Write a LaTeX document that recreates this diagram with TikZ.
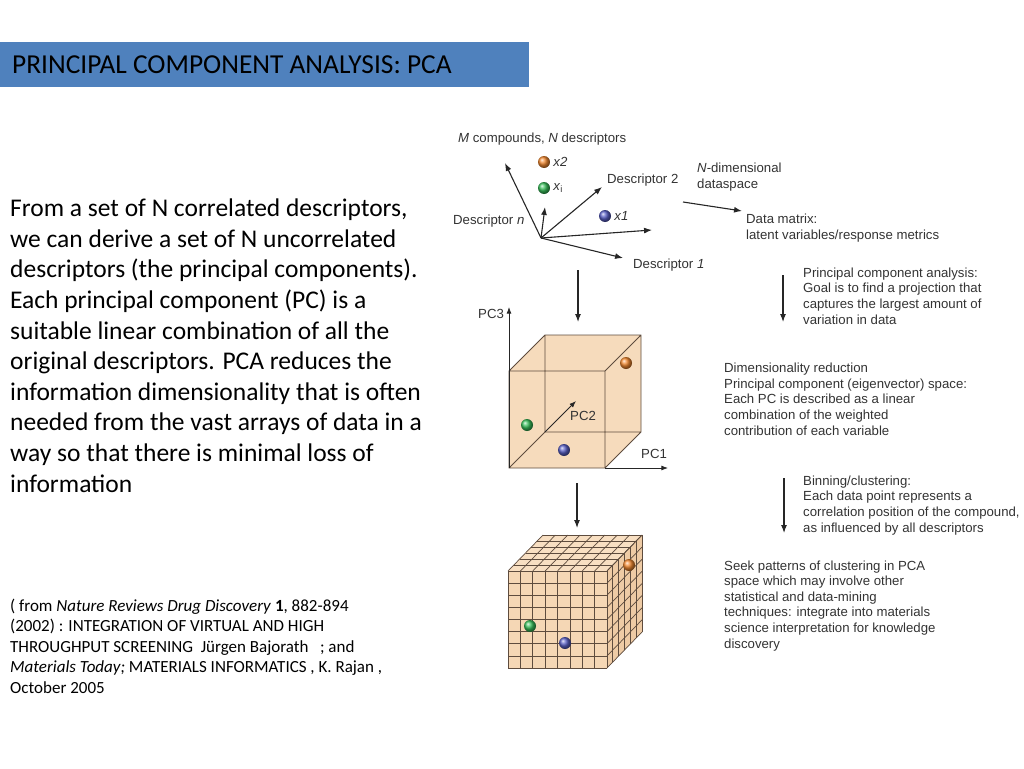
\documentclass[tikz,border=0pt]{standalone}
\usepackage{fontspec}
\setmainfont{Carlito}
\newfontfamily\arialfont{Liberation Sans}
\usetikzlibrary{arrows.meta,calc,positioning}
\definecolor{titleblue}{HTML}{4F81BD}
\definecolor{boxtan}{HTML}{F5D7B5}
\definecolor{boxtop}{HTML}{F8DFC2}
\definecolor{boxside}{HTML}{EECBA5}
\definecolor{boxedge}{HTML}{5E4C3E}
\definecolor{ballorange}{HTML}{F58A30}
\definecolor{ballgreen}{HTML}{38C05A}
\definecolor{ballblue}{HTML}{5A60C8}

\begin{document}
\begin{tikzpicture}[x=1pt,y=-1pt,>=Latex,
  lbl/.style={font=\arialfont\fontsize{13.2}{15.6}\selectfont,inner sep=0pt,anchor=base west,align=left,text=black!80},
  arr/.style={->,line width=1.1pt,black!85},
  ballnode/.style={circle,inner sep=0pt,minimum size=12pt,shade,ball color=#1}]
  \useasboundingbox (0,0) rectangle (1024,768);
  % title bar
  \fill[titleblue] (0,42) rectangle (529,87);
  \node[inner sep=0pt,anchor=base west,font=\fontsize{27.4}{32}\selectfont] (title) at (12,74) {PRINCIPAL COMPONENT ANALYSIS: PCA};
  % left text (base = last line)
  \node[inner sep=0pt,anchor=base west,align=left,font=\fontsize{25.5}{30.6}\selectfont] (body) at (10,492)
    {From a set of N correlated descriptors,\\
     we can derive a set of N uncorrelated\\
     descriptors (the principal components).\\
     Each principal component (PC) is a\\
     suitable linear combination of all the\\
     original descriptors. PCA reduces the\\
     information dimensionality that is often\\
     needed from the vast arrays of data in a\\
     way so that there is minimal loss of\\
     information};
  \node[inner sep=0pt,anchor=base west,align=left,font=\fontsize{17}{20.5}\selectfont] (refs) at (10,693)
    {( from \textit{Nature Reviews Drug Discovery} \textbf{1}, 882-894\\
     (2002) : INTEGRATION OF VIRTUAL AND HIGH\\
     THROUGHPUT SCREENING~ J\"urgen Bajorath ~ ; and\\
     \textit{Materials Today;} MATERIALS INFORMATICS , K. Rajan ,\\
     October 2005};

  % descriptor space
  \node[lbl] (mn) at (458,142) {\textit{M} compounds, \textit{N} descriptors};
  \coordinate (o) at (541,238);
  \coordinate (dn) at (505,163);
  \coordinate (dup) at (545,207);
  \coordinate (d2) at (602,187);
  \coordinate (dh) at (652,230);
  \coordinate (d1) at (623,258);
  \foreach \e in {dn,dup,d2,dh,d1}
    \draw[arr] (o) -- (\e);
  \node[lbl] (ldn) at (453,224) {Descriptor \textit{n}};
  \node[lbl] (ld2) at (607,183) {Descriptor 2};
  \node[lbl] (ld1) at (633,268) {Descriptor \textit{1}};
  \node[ballnode=ballorange] (x2) at (544,162) {};
  \node[ballnode=ballgreen] (xi) at (544,188) {};
  \node[ballnode=ballblue] (x1) at (605,216) {};
  \node[lbl,right=3pt of x2] (lx2) {\textit{x2}};
  \node[lbl,right=3pt of xi] (lxi) {\textit{x}\textsubscript{i}};
  \node[lbl,right=3pt of x1] (lx1) {\textit{x1}};
  \node[lbl] (ndim) at (697,188) {\textit{N}-dimensional\\dataspace};
  \node[lbl] (dmat) at (746,239.5) {Data matrix:\\latent variables/response metrics};
  \coordinate (m0) at (683,202);
  \coordinate (m1) at (742,211);
  \draw[arr] (m0) -- (m1);

  % step arrows
  \coordinate (a0) at (578,270);
  \coordinate (a1) at (578,322);
  \draw[arr] (a0) -- (a1);
  \coordinate (p0) at (783,275);
  \coordinate (p1) at (783,322);
  \draw[arr] (p0) -- (p1);
  \node[lbl] (pca) at (803,324) {Principal component analysis:\\Goal is to find a projection that\\captures the largest amount of\\variation in data};

  % PC cube
  \fill[boxtan,opacity=.9] (509,468) -- (509,371) -- (545,335) -- (641,335) -- (641,432) -- (605,468) -- cycle;
  \draw[boxedge,line width=.8pt] (509,371) rectangle (605,468) (545,335) rectangle (641,432)
    (509,371) -- (545,335) (605,371) -- (641,335) (605,468) -- (641,432) (509,468) -- (545,432);
  \coordinate (c0) at (509,468);
  \coordinate (pc3) at (509,307);
  \coordinate (pc1) at (668,468);
  \coordinate (pc2) at (576,401);
  \draw[->,line width=.8pt,black!85] (c0) -- (pc3);
  \draw[->,line width=.8pt,black!85] (605,468) -- (pc1);
  \draw[->,line width=.8pt,black!85] (545,432) -- (pc2);
  \node[lbl] (lpc3) at (478,318) {PC3};
  \node[lbl] (lpc1) at (641,458) {PC1};
  \node[lbl] (lpc2) at (570,420) {PC2};
  \node[ballnode=ballorange] (c2) at (626,363) {};
  \node[ballnode=ballgreen] (ci) at (527,425) {};
  \node[ballnode=ballblue] (c1) at (564,450) {};
  \node[lbl] (dimred) at (724,435) {Dimensionality reduction\\Principal component (eigenvector) space:\\Each PC is described as a linear\\combination of the weighted\\contribution of each variable};

  \coordinate (b0) at (577,483);
  \coordinate (b1) at (577,528);
  \draw[arr] (b0) -- (b1);
  \coordinate (q0) at (784,478);
  \coordinate (q1) at (784,533);
  \draw[arr] (q0) -- (q1);
  \node[lbl] (bin) at (803,532) {Binning/clustering:\\Each data point represents a\\correlation position of the compound,\\as influenced by all descriptors};

  % binned cube: 8x8 front, 6 deep
  \fill[boxtan] (508,571) rectangle (607,668);
  \fill[boxtop] (508,571) -- (607,571) -- (642,535) -- (543,535) -- cycle;
  \fill[boxside] (607,571) -- (642,535) -- (642,632) -- (607,668) -- cycle;
  \foreach \i in {0,...,8} {
    \draw[boxedge,line width=.7pt] ({508+\i*99/8},571) -- ({508+\i*99/8},668);
    \draw[boxedge,line width=.7pt] (508,{571+\i*97/8}) -- (607,{571+\i*97/8});
    \draw[boxedge,line width=.7pt] ({508+\i*99/8},571) -- ({543+\i*99/8},535);
    \draw[boxedge,line width=.7pt] (607,{571+\i*97/8}) -- (642,{535+\i*97/8});
  }
  \foreach \j in {0,...,6} {
    \draw[boxedge,line width=.7pt] ({508+\j*35/6},{571-\j*36/6}) -- ({607+\j*35/6},{571-\j*36/6});
    \draw[boxedge,line width=.7pt] ({607+\j*35/6},{571-\j*36/6}) -- ({607+\j*35/6},{668-\j*36/6});
  }
  \node[ballnode=ballorange] (g2) at (629,565) {};
  \node[ballnode=ballgreen] (gi) at (530,626) {};
  \node[ballnode=ballblue] (g1) at (565,643) {};
  \node[lbl] (seek) at (724,648) {Seek patterns of clustering in PCA\\space which may involve other\\statistical and data-mining\\techniques: integrate into materials\\science interpretation for knowledge\\discovery};
\end{tikzpicture}
\end{document}
